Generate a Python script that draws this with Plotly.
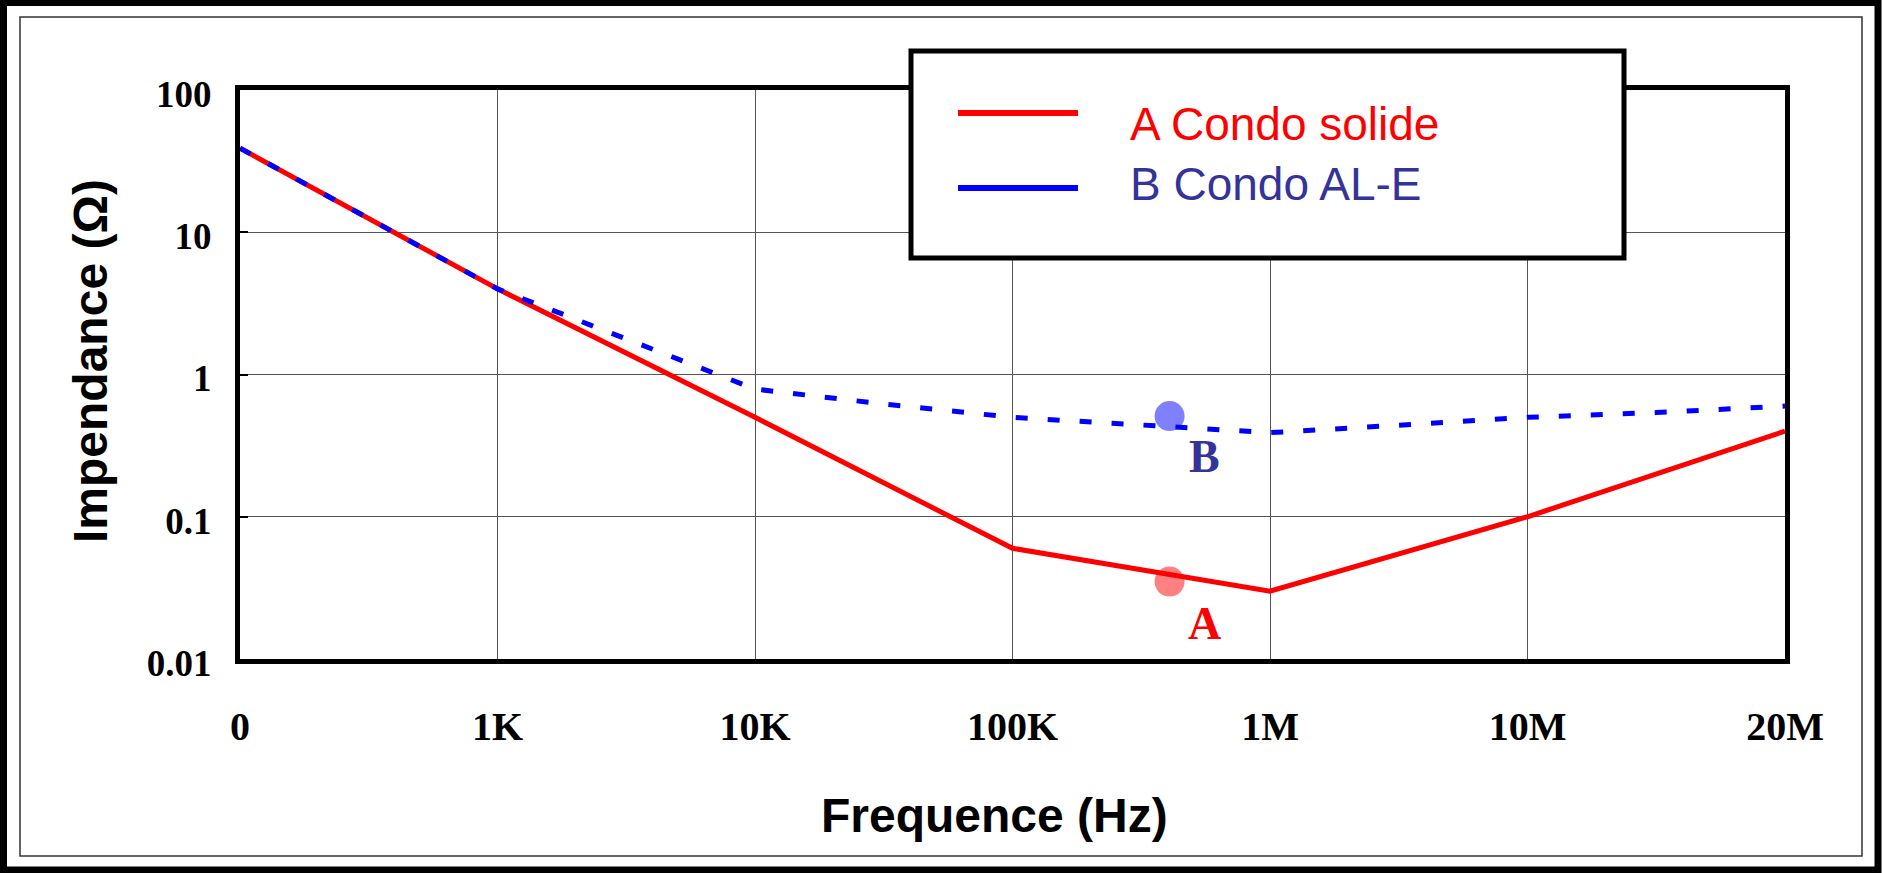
import plotly.graph_objects as go

# ---------------- data ----------------
freq_labels = ["0", "1K", "10K", "100K", "1M", "10M", "20M"]
freq_pos = [0, 1, 2, 3, 4, 5, 6]

# Series A : solid capacitor (red)
a_pos = [0, 1, 2, 3, 4, 5, 6]
a_imp = [39, 4.0, 0.5, 0.06, 0.03, 0.1, 0.4]

# Series B : aluminium electrolytic capacitor (blue dashed)
b_pos = [0, 1, 2, 2.5, 3, 3.5, 4, 4.5, 5, 5.5, 6]
b_imp = [39, 4.0, 0.79, 0.62, 0.50, 0.44, 0.39, 0.44, 0.50, 0.54, 0.60]

y_ticks = [0.01, 0.1, 1, 10, 100]
y_ticklabels = ["0.01", "0.1", "1", "10", "100"]

# highlighted points and their letters
marker_pos = [3.61]
marker_a = [0.035]
marker_b = [0.51]
letter_pos = 3.745
letter_a_imp = 0.0179
letter_b_imp = 0.267

legend_names = ["A Condo solide", "B Condo AL-E"]

# ---------------- figure geometry ----------------
W, H = 1882, 873
L, R, T, B = 240, 1785, 90, 659
PW, PH = R - L, B - T


def px(x):
    return (x - L) / PW


def py(y):
    return (B - y) / PH


fig = go.Figure()

fig.add_trace(go.Scatter(x=marker_pos, y=marker_b, mode="markers",
                         marker=dict(size=30, color="#8080ff"),
                         showlegend=False, hoverinfo="skip"))
fig.add_trace(go.Scatter(x=marker_pos, y=marker_a, mode="markers",
                         marker=dict(size=30, color="#ff8080"),
                         showlegend=False, hoverinfo="skip"))

fig.add_trace(go.Scatter(x=a_pos, y=a_imp, mode="lines", name=legend_names[0],
                         line=dict(color="#ff0000", width=5),
                         showlegend=False))
fig.add_trace(go.Scatter(x=b_pos, y=b_imp, mode="lines", name=legend_names[1],
                         line=dict(color="#0000ff", width=5, dash="12px,20px"),
                         showlegend=False))

tick_font = dict(family="Liberation Serif, Times New Roman, serif", size=40,
                 color="black", weight="bold")

fig.update_xaxes(range=[0, 6], tickmode="array", tickvals=freq_pos,
                 ticktext=freq_labels, showgrid=True, gridcolor="#555555",
                 gridwidth=1, showline=True, linecolor="black", linewidth=5,
                 mirror=True, ticks="", tickfont=tick_font,
                 ticklabelstandoff=28, zeroline=False)
fig.update_yaxes(type="log", range=[-2, 2], tickmode="array", tickvals=y_ticks,
                 ticktext=y_ticklabels, showgrid=True, gridcolor="#555555",
                 gridwidth=1, showline=True, linecolor="black", linewidth=5,
                 mirror=True, ticks="inside", ticklen=8, tickwidth=2,
                 tickcolor="black", tickfont=dict(tick_font, size=37),
                 ticklabelstandoff=16, ticklabelshift=4, zeroline=False)

shapes = [
    # outer thick border
    dict(type="rect", xref="paper", yref="paper", x0=px(3.5), x1=px(1878),
         y0=py(870), y1=py(2.5), line=dict(color="black", width=7), layer="above"),
    # inner thin border
    dict(type="rect", xref="paper", yref="paper", x0=px(20), x1=px(1862),
         y0=py(856), y1=py(17), line=dict(color="#333333", width=1.5), layer="above"),
    # legend box
    dict(type="rect", xref="paper", yref="paper", x0=px(911), x1=px(1624),
         y0=py(258), y1=py(51), line=dict(color="black", width=5),
         fillcolor="white", layer="above"),
    dict(type="line", xref="paper", yref="paper", x0=px(958), x1=px(1078),
         y0=py(113), y1=py(113), line=dict(color="#ff0000", width=6), layer="above"),
    dict(type="line", xref="paper", yref="paper", x0=px(958), x1=px(1078),
         y0=py(188), y1=py(188), line=dict(color="#0000ff", width=6), layer="above"),
]

sans = "Liberation Sans, Arial, sans-serif"
serif = "Liberation Serif, Times New Roman, serif"
annotations = [
    dict(text=legend_names[0], xref="paper", yref="paper", x=px(1128), y=py(124),
         xanchor="left", yanchor="middle", showarrow=False,
         font=dict(family=sans, size=46, color="#ff0000")),
    dict(text=legend_names[1], xref="paper", yref="paper", x=px(1128), y=py(184),
         xanchor="left", yanchor="middle", showarrow=False,
         font=dict(family=sans, size=46, color="#333399")),
    dict(text="A", x=letter_pos, y=-1.747, xref="x", yref="y", showarrow=False,
         xanchor="center", yanchor="middle",
         font=dict(family=serif, size=46, color="#ff0000", weight="bold")),
    dict(text="B", x=letter_pos, y=-0.573, xref="x", yref="y", showarrow=False,
         xanchor="center", yanchor="middle",
         font=dict(family=serif, size=46, color="#333399", weight="bold")),
    dict(text="Frequence (Hz)", xref="paper", yref="paper", x=px(994), y=py(816),
         xanchor="center", yanchor="middle", showarrow=False,
         font=dict(family=sans, size=48, color="black", weight="bold")),
    dict(text="Impendance (Ω)", xref="paper", yref="paper", x=px(90), y=py(361),
         xanchor="center", yanchor="middle", showarrow=False, textangle=-90,
         font=dict(family=sans, size=48, color="black", weight="bold")),
]

fig.update_layout(width=W, height=H,
                  margin=dict(l=L, r=W - R, t=T, b=H - B, pad=0),
                  paper_bgcolor="white", plot_bgcolor="white",
                  showlegend=False, shapes=shapes, annotations=annotations)

fig.write_html("out.html", config={"displayModeBar": False},
               post_script="document.body.style.margin='0';"
                           "document.body.style.overflow='hidden';")
